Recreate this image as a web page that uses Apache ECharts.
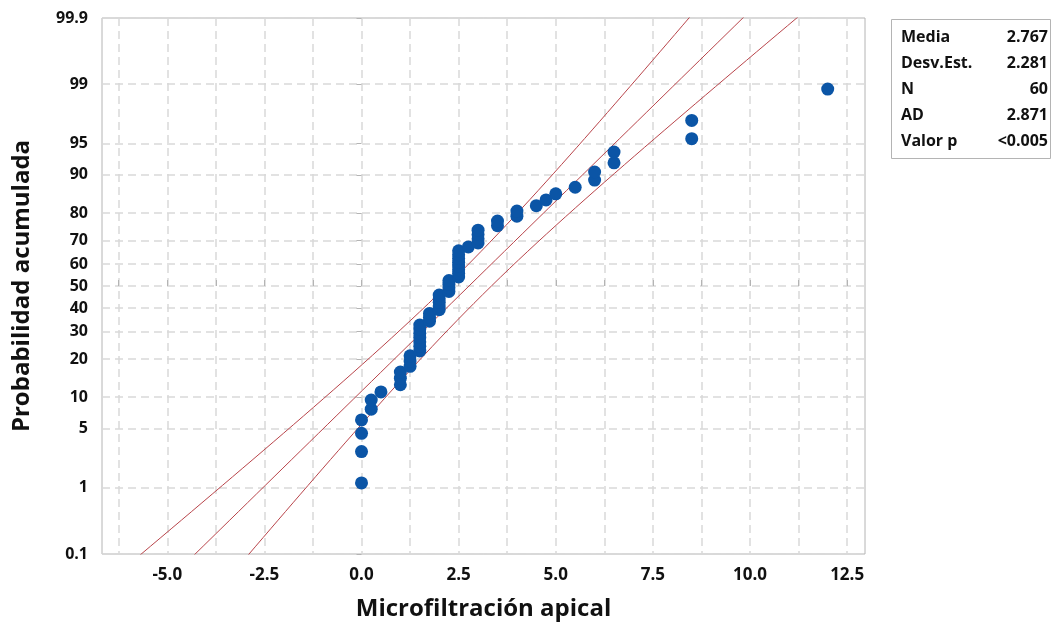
<!DOCTYPE html>
<html>
<head>
<meta charset="utf-8">
<script src="https://cdn.jsdelivr.net/npm/echarts@6/dist/echarts.min.js"></script>
<style>
html, body { margin: 0; padding: 0; background: #fff; }
#main { width: 1052px; height: 624px; }
</style>
</head>
<body>
<div id="main"></div>
<script>
// muestra ordenada, 60 observaciones
const microfiltracion = [
    0, 0, 0, 0, 0.25, 0.25, 0.5, 1, 1, 1,
    1.25, 1.25, 1.25, 1.5, 1.5, 1.5, 1.5, 1.5, 1.5, 1.5,
    1.75, 1.75, 1.75, 2, 2, 2, 2, 2, 2.25, 2.25,
    2.25, 2.25, 2.5, 2.5, 2.5, 2.5, 2.5, 2.5, 2.5, 2.5,
    2.75, 3, 3, 3, 3, 3.5, 3.5, 4, 4, 4.5,
    4.75, 5, 5.5, 6, 6, 6.5, 6.5, 8.5, 8.5, 12
]
// marcas del eje de probabilidad (%)
const probTicks = [0.1, 1, 5, 10, 20, 30, 40, 50, 60, 70, 80, 90, 95, 99, 99.9]
// marcas del eje x
const xGridTicks = [-6.25, -5, -3.75, -2.5, -1.25, 0, 1.25, 2.5, 3.75, 5, 6.25, 7.5, 8.75, 10, 11.25, 12.5]
const xLabelTicks = [-5, -2.5, 0, 2.5, 5, 7.5, 10, 12.5]
// tabla de resumen
const statNames = ['Media', 'Desv.Est.', 'N', 'AD', 'Valor p']
const statValues = ['2.767', '2.281', '60', '2.871', '<0.005']

const media = parseFloat(statValues[0])
const desv = parseFloat(statValues[1])
const n = microfiltracion.length

// inversa de la normal estandar (Acklam)
function normInv (p) {
    const a = [-3.969683028665376e+01, 2.209460984245205e+02, -2.759285104469687e+02, 1.383577518672690e+02, -3.066479806614716e+01, 2.506628277459239e+00]
    const b = [-5.447609879822406e+01, 1.615858368580409e+02, -1.556989798598866e+02, 6.680131188771972e+01, -1.328068155288572e+01]
    const c = [-7.784894002430293e-03, -3.223964580411365e-01, -2.400758277161838e+00, -2.549732539343734e+00, 4.374664141464968e+00, 2.938163982698783e+00]
    const d = [7.784695709041462e-03, 3.224671290700398e-01, 2.445134137142996e+00, 3.754408661907416e+00]
    const pl = 0.02425
    let q, r
    if (p < pl) {
        q = Math.sqrt(-2 * Math.log(p))
        return (((((c[0] * q + c[1]) * q + c[2]) * q + c[3]) * q + c[4]) * q + c[5]) / ((((d[0] * q + d[1]) * q + d[2]) * q + d[3]) * q + 1)
    }
    if (p > 1 - pl) {
        q = Math.sqrt(-2 * Math.log(1 - p))
        return -(((((c[0] * q + c[1]) * q + c[2]) * q + c[3]) * q + c[4]) * q + c[5]) / ((((d[0] * q + d[1]) * q + d[2]) * q + d[3]) * q + 1)
    }
    q = p - 0.5
    r = q * q
    return (((((a[0] * r + a[1]) * r + a[2]) * r + a[3]) * r + a[4]) * r + a[5]) * q / (((((b[0] * r + b[1]) * r + b[2]) * r + b[3]) * r + b[4]) * r + 1)
}

// posiciones de graficacion (rango mediano)
const puntos = microfiltracion.map((v, i) => [v, normInv((i + 1 - 0.3) / (n + 0.4))])

const zTicks = probTicks.map(p => normInv(p / 100))

// recta ajustada y bandas de confianza 95%
const ajuste = []
const bandaInf = []
const bandaSup = []
for (let k = -34; k <= 34; k++) {
    const z = k / 10
    const xp = media + z * desv
    const h = 1.96 * desv * Math.sqrt(1 / n + z * z / (2 * n))
    ajuste.push([xp, z])
    bandaInf.push([xp - h, z])
    bandaSup.push([xp + h, z])
}

const fontUI = "'Open Sans', 'Noto Sans', sans-serif"
const lineColor = '#b8444a'

const option = {
    animation: false,
    backgroundColor: '#fff',
    grid: {
        left: 102,
        right: 187,
        top: 18,
        bottom: 70,
        outerBoundsMode: 'none',
        containLabel: false,
        show: true,
        borderColor: '#b4b4b4',
        borderWidth: 1
    },
    xAxis: {
        type: 'value',
        min: -6.68,
        max: 12.96,
        name: 'Microfiltración apical',
        nameLocation: 'middle',
        nameGap: 43,
        nameTextStyle: {
            fontFamily: fontUI,
            fontSize: 24,
            fontWeight: 'bold',
            color: '#111'
        },
        axisLine: { show: false },
        axisTick: {
            inside: true,
            length: 6,
            customValues: xGridTicks,
            lineStyle: { color: '#b4b4b4' }
        },
        axisLabel: {
            customValues: xLabelTicks,
            margin: 13,
            fontFamily: fontUI,
            fontSize: 17,
            fontWeight: 'bold',
            color: '#111',
            formatter: v => v.toFixed(1)
        },
        splitLine: {
            show: true,
            lineStyle: { color: '#d9d9d9', type: [8, 5], width: 1.5 }
        }
    },
    yAxis: {
        type: 'value',
        min: zTicks[0],
        max: zTicks[zTicks.length - 1],
        name: 'Probabilidad acumulada',
        nameLocation: 'middle',
        nameGap: 68,
        nameTextStyle: {
            fontFamily: fontUI,
            fontSize: 24,
            fontWeight: 'bold',
            color: '#111'
        },
        axisLine: { show: false },
        axisTick: {
            length: 5,
            customValues: zTicks,
            lineStyle: { color: '#b4b4b4' }
        },
        axisLabel: {
            customValues: zTicks,
            margin: 14,
            fontFamily: fontUI,
            fontSize: 16,
            fontWeight: 'bold',
            color: '#111',
            formatter: v => {
                let best = 0
                zTicks.forEach((z, i) => { if (Math.abs(z - v) < Math.abs(zTicks[best] - v)) best = i })
                return String(probTicks[best])
            }
        },
        splitLine: {
            show: true,
            lineStyle: { color: '#d9d9d9', type: [8, 5], width: 1.5 }
        }
    },
    series: [
        {
            name: 'bandaInf',
            type: 'line',
            data: bandaInf,
            showSymbol: false,
            clip: true,
            lineStyle: { color: lineColor, width: 1 },
            z: 2
        },
        {
            name: 'ajuste',
            type: 'line',
            data: ajuste,
            showSymbol: false,
            clip: true,
            lineStyle: { color: lineColor, width: 1 },
            z: 2
        },
        {
            name: 'bandaSup',
            type: 'line',
            data: bandaSup,
            showSymbol: false,
            clip: true,
            lineStyle: { color: lineColor, width: 1 },
            z: 2
        },
        {
            name: 'datos',
            type: 'scatter',
            data: puntos,
            symbolSize: 13,
            itemStyle: { color: '#0b55a6', opacity: 1 },
            z: 3
        }
    ],
    graphic: [
        {
            type: 'rect',
            left: 891,
            top: 19,
            shape: { width: 159, height: 139 },
            style: { fill: '#fff', stroke: '#b4b4b4', lineWidth: 1 }
        }
    ].concat(statNames.map((s, i) => ({
        type: 'text',
        x: 901,
        y: 37 + i * 26,
        style: {
            text: s,
            fontFamily: fontUI,
            fontSize: 16,
            fontWeight: 'bold',
            fill: '#111',
            verticalAlign: 'middle'
        }
    }))).concat(statValues.map((s, i) => ({
        type: 'text',
        x: 1048,
        y: 37 + i * 26,
        style: {
            text: s,
            fontFamily: fontUI,
            fontSize: 16,
            fontWeight: 'bold',
            fill: '#111',
            align: 'right',
            verticalAlign: 'middle'
        }
    })))
}

const chart = echarts.init(document.getElementById('main'))
chart.setOption(option)
</script>
</body>
</html>
